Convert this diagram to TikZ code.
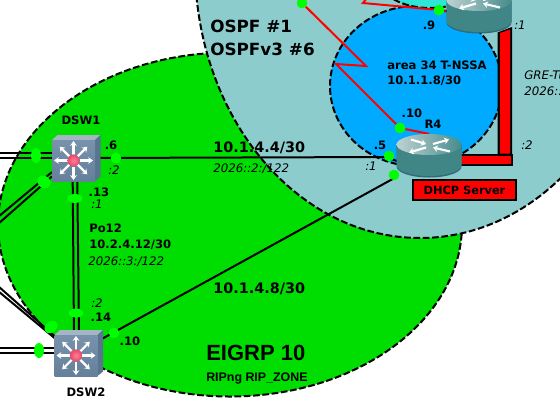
\documentclass[tikz,border=0pt]{standalone}
\usepackage{fontspec}
\setmainfont{DejaVu Sans}
\newfontfamily\arialfont{Liberation Sans}
\usetikzlibrary{arrows.meta}
\definecolor{eigrpgreen}{HTML}{00DD00}
\definecolor{ospfteal}{HTML}{8CCCCC}
\definecolor{areablue}{HTML}{00AAFF}
\definecolor{areacyan}{HTML}{2EE6D6}
\definecolor{dotgreen}{HTML}{00FF00}
\definecolor{swtop}{RGB}{165,181,197}
\definecolor{swside}{RGB}{88,117,144}
\definecolor{swfronta}{RGB}{120,146,172}
\definecolor{swfrontb}{RGB}{100,128,155}
\definecolor{swball}{RGB}{232,70,105}
\definecolor{swballin}{RGB}{250,130,150}
\definecolor{rtbase}{RGB}{50,105,125}
\definecolor{rtbody}{RGB}{64,134,134}
\definecolor{rtlight}{RGB}{190,210,210}
\definecolor{rtdark}{RGB}{70,140,140}
\newcommand{\fsz}[1]{\fontsize{#1}{#1}\selectfont}
\tikzset{
  zone/.style={draw=black,line width=1.5pt,dash pattern=on 5pt off 2pt},
  linkline/.style={draw=black,line width=1.5pt},
  redline/.style={draw=red,line width=1.5pt},
  dotnode/.style={circle,fill=dotgreen,draw=none,minimum size=7.8pt,inner sep=0pt},
  devbox/.style={draw=none,inner sep=0pt,minimum width=32pt,minimum height=31pt},
  rtbox/.style={draw=none,inner sep=0pt,minimum width=49pt,minimum height=32pt},
  lbl/.style={anchor=west,inner sep=0pt,font=\fsz{8.7pt}\bfseries},
  lblc/.style={anchor=center,inner sep=0pt,font=\fsz{8.7pt}\bfseries},
  big/.style={anchor=west,inner sep=0pt,font=\fsz{10.8pt}\bfseries},
  huge/.style={anchor=west,inner sep=0pt,font=\fsz{12.6pt}\bfseries},
  ital/.style={anchor=west,inner sep=0pt,font=\fsz{8.85pt}\itshape},
  italc/.style={anchor=center,inner sep=0pt,font=\fsz{8.85pt}\itshape},
  whitearrow/.style={draw=white,line width=1.6pt,-{Stealth[length=3.6pt,width=5pt]}},
  pics/switchdev/.style={code={
    \fill[swtop] (-21.5,-20.5) -- (-16,-25.5) -- (27,-25.5) -- (21.5,-20.5) -- cycle;
    \fill[swside] (21.5,-20.5) -- (27,-25.5) -- (27,16) -- (21.5,20.5) -- cycle;
    \shade[top color=swfronta,bottom color=swfrontb] (-21.5,-20.5) rectangle (21.5,20.5);
    \foreach \a in {0,45,...,315}{
      \draw[whitearrow] (\a:6) -- (\a:19.5);
    }
    \shade[inner color=swballin,outer color=swball] (0,0) circle (4.6pt);
  }},
  pics/routerdev/.style={code={
    \fill[rtbase] (-32.5,-11) -- (-32.5,11) arc[start angle=180,end angle=360,x radius=32.5,y radius=-11] -- (32.5,-11) -- cycle;
    \fill[rtbody] (-32.5,-11) -- (-32.5,9.5) arc[start angle=180,end angle=360,x radius=32.5,y radius=-11] -- (32.5,-11) -- cycle;
    \shade[left color=rtlight,right color=rtdark] (0,-11) ellipse[x radius=32.5,y radius=10.5];
    \draw[whitearrow] (-18,-16) -- (-3,-11.5);
    \draw[whitearrow] (-3,-8) -- (-20,-3);
    \draw[whitearrow] (4,-11.5) -- (20,-16);
    \draw[whitearrow] (21,-4) -- (4,-8);
  }},
}
\begin{document}
\begin{tikzpicture}[x=0.75pt,y=-0.75pt]
\useasboundingbox (0,0) rectangle (560,408);
\clip (0,0) rectangle (560,408);
\fill[white] (0,0) rectangle (560,408);
% zones
\draw[zone,fill=eigrpgreen] (230,224.5) ellipse[x radius=232,y radius=172];
\draw[zone,fill=ospfteal] (420,-35) ellipse[x radius=225,y radius=273];
\draw[zone,fill=areablue] (416,86) ellipse[x radius=86,y radius=80];
\draw[zone,fill=areacyan] (430,-20) ellipse[x radius=50,y radius=28];
% device anchors
\node[devbox] (DSW1) at (73.5,160.5) {};
\node[devbox] (DSW2) at (76,355.5) {};
\node[rtbox] (R4) at (429,155.5) {};
\node[rtbox] (R3) at (479,11.5) {};
% free ends
\coordinate (a1) at (-2,152.7);
\coordinate (a2) at (-2,158.3);
\coordinate (b1) at (-2,217);
\coordinate (b2) at (-2,224);
\coordinate (c1) at (-2,286);
\coordinate (c2) at (-2,291);
\coordinate (e1) at (-2,348);
\coordinate (e2) at (-2,353);
\coordinate (redtop) at (367,-2);
% dots
\node[dotnode] (d6) at (116,158) {};
\node[dotnode] (d10) at (114,333) {};
\node[dotnode] (d5) at (389,156) {};
\node[dotnode] (d1) at (394,175) {};
\node[dotnode] (d10b) at (400,128) {};
\node[dotnode] (d9) at (439,10) {};
\node[dotnode] (dtop) at (302,3) {};
% red tunnel
\fill[black] (497.5,32.5) -- (512,27) -- (512,156) -- (497.5,156) -- cycle;
\fill[red] (500,33) -- (510,29.5) -- (510,153.5) -- (500,153.5) -- cycle;
\fill[black] (458,154) rectangle (512.5,166);
\fill[red] (458,156) rectangle (510.5,164);
% links
\draw[linkline] (a1) -- (DSW1.west |- a1);
\draw[linkline] (a2) -- (DSW1.west |- a2);
\draw[linkline] (b1) -- ([yshift=7pt]DSW1.south west);
\draw[linkline] (b2) -- ([yshift=3.7pt]DSW1.south west);
\draw[linkline] (c1) -- ([yshift=-1pt]DSW2.north west);
\draw[linkline] (c2) -- ([yshift=-5pt,xshift=3pt]DSW2.north west);
\draw[linkline] (e1) -- (DSW2.west |- e1);
\draw[linkline] (e2) -- (DSW2.west |- e2);
\draw[linkline] ([xshift=-0.6pt]DSW1.south) -- ([xshift=-1.5pt]DSW2.north);
\draw[linkline] ([xshift=2.85pt]DSW1.south) -- ([xshift=2.25pt]DSW2.north);
\draw[linkline] (DSW1.east |- d6) -- (385,157) -- (397,161);
\draw[linkline] ([yshift=-5pt]DSW2.north east) -- (R4.south west);
\draw[redline] (dtop) -- (366,66) -- (336,64) -- (d10b) -- (R4.north);
\draw[redline] (redtop) -- (363,3) -- (d9) -- (R3.west);
% devices
\pic at (DSW1) {switchdev};
\pic at (DSW2) {switchdev};
\pic at (R4) {routerdev};
\pic at (R3) {routerdev};
% dots on top of lines
\foreach \p in {(116,158),(114,333),(389,156),(394,175),(400,128),(439,10),(302,3)}{
  \fill[dotgreen] \p circle (3.9pt);
}
% oval dots
\fill[dotgreen] (36,155.5) ellipse[x radius=5,y radius=7.5];
\fill[dotgreen,rotate around={-40:(44,182)}] (44,182) ellipse[x radius=7,y radius=6];
\fill[dotgreen] (75,198.5) ellipse[x radius=7.5,y radius=4.5];
\fill[dotgreen] (76,313) ellipse[x radius=7.5,y radius=4.5];
\fill[dotgreen,rotate around={40:(51,327)}] (51,327) ellipse[x radius=7,y radius=5.5];
\fill[dotgreen] (39,350.5) ellipse[x radius=5,y radius=7.5];
% DHCP box
\node[draw=black,line width=1.5pt,fill=red,minimum width=77pt,minimum height=15.5pt,inner sep=0pt,font=\fsz{8.5pt}\bfseries] (dhcp) at (464.5,190) {DHCP Server};
% labels
\node[lblc] (tDSW1) at (81,120) {DSW1};
\node[lblc] (tDSW2) at (86,392) {DSW2};
\node[lblc] (tR4) at (433,124) {R4};
\node[lblc] (t6) at (111,145) {.6};
\node[italc] (ti2a) at (114,170) {:2};
\node[lblc] (t13) at (99,192) {.13};
\node[italc] (ti1a) at (97,204) {:1};
\node[lbl] (tPo) at (89,228) {Po12};
\node[lbl] (tPoip) at (89,245) {10.2.4.12/30};
\node[ital] (tPo6) at (88,262) {2026::3:/122};
\node[italc] (ti2b) at (97,303) {:2};
\node[lblc] (t14) at (101,317) {.14};
\node[lblc] (t10a) at (130,341) {.10};
\node[big] (t444) at (213,148) {10.1.4.4/30};
\node[ital] (t4446) at (213,169) {2026::2:/122};
\node[big] (t448) at (213,289) {10.1.4.8/30};
\node[anchor=west,inner sep=0pt,font=\arialfont\fsz{16.5pt}\bfseries] (tE) at (206,353) {EIGRP 10};
\node[anchor=west,inner sep=0pt,font=\arialfont\fsz{9.3pt}\bfseries] (tR) at (206,378) {RIPng RIP\_ZONE};
\node[huge] (tO) at (210,26) {OSPF \#1};
\node[huge] (tO3) at (210,49) {OSPFv3 \#6};
\node[lbl] (tA) at (387,65) {area 34 T-NSSA};
\node[lbl] (tAip) at (387,81) {10.1.1.8/30};
\node[lblc] (t9) at (429,25) {.9};
\node[lblc] (t2top) at (421,-5) {.2};
\node[italc] (ti1b) at (520,25) {:1};
\node[ital] (tG) at (524,75) {GRE-Tu};
\node[ital] (tG6) at (524,91) {2026::};
\node[italc] (ti2c) at (527,145) {:2};
\node[lblc] (t10b) at (412,113) {.10};
\node[lblc] (t5) at (380,145) {.5};
\node[italc] (ti1c) at (371,166) {:1};
\end{tikzpicture}
\end{document}
